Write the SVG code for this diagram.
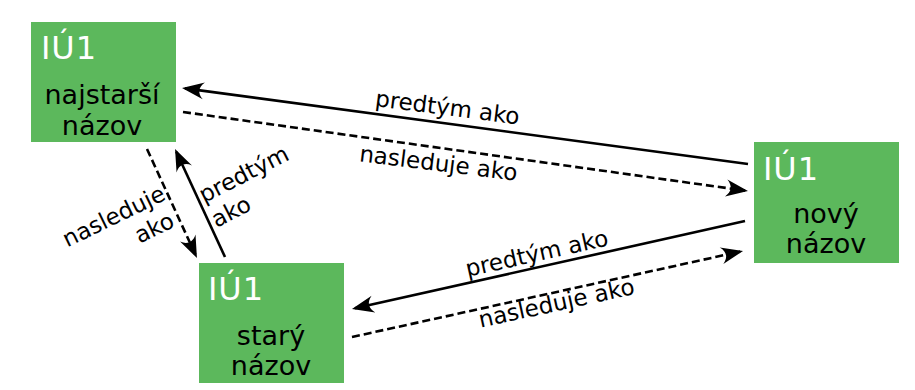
<svg xmlns="http://www.w3.org/2000/svg" width="915" height="390" viewBox="0 0 915 390">
<style>
.box{fill:#5cb85c}
.id{font-family:"DejaVu Sans","Liberation Sans",sans-serif;font-size:32px;fill:#ffffff}
.nm{font-family:"DejaVu Sans","Liberation Sans",sans-serif;font-size:27px;fill:#000000;text-anchor:middle}
.lb{font-family:"DejaVu Sans","Liberation Sans",sans-serif;font-size:23px;fill:#000000}
.solid{fill:none;stroke:#000;stroke-width:2.6;marker-end:url(#arr)}
.dash{fill:none;stroke:#000;stroke-width:2.6;stroke-dasharray:8,4;marker-end:url(#arr)}
</style>
<defs>
<marker id="arr" markerUnits="userSpaceOnUse" markerWidth="28" markerHeight="22" viewBox="-25 -11 28 22" refX="-3" refY="0" orient="auto">
<path d="M0,0 L-22,-8.5 C-16,-3 -16,3 -22,8.5 Z" fill="#000"/>
</marker>
</defs>
<rect width="915" height="390" fill="#ffffff"/>
<g id="connectors">
<path class="solid" d="M748,164 L185,88.4"/>
<path class="dash" d="M183,112 L745,190.6"/>
<path class="solid" d="M745,221 L354.9,308.3"/>
<path class="dash" d="M352,337 L740.1,251.6"/>
<path class="dash" d="M147,149 L195.7,255.3"/>
<path class="solid" d="M225,257 L176.3,151.7"/>
<text class="lb" text-anchor="middle" transform="translate(446.5,115.3) rotate(7.3)">predtým ako</text>
<text class="lb" text-anchor="middle" transform="translate(437.5,171) rotate(7)">nasleduje ako</text>
<text class="lb" text-anchor="middle" transform="translate(538.5,261) rotate(-12.6)">predtým ako</text>
<text class="lb" text-anchor="middle" transform="translate(558,310.8) rotate(-12.3)">nasleduje ako</text>
<text class="lb" transform="translate(204,203.3) rotate(-27)">predtým</text>
<text class="lb" transform="translate(216.5,227.9) rotate(-27)">ako</text>
<text class="lb" text-anchor="end" transform="translate(167,199) rotate(-26)">nasleduje</text>
<text class="lb" text-anchor="end" transform="translate(176,226) rotate(-26)">ako</text>
</g>
<g id="node-najstarsi">
<rect class="box" x="31" y="22" width="145" height="120"/>
<text class="id" x="41" y="59" textLength="55" lengthAdjust="spacing">IÚ1</text>
<text class="nm" x="102" y="104">najstarší</text>
<text class="nm" x="102" y="135">názov</text>
</g>
<g id="node-novy">
<rect class="box" x="754" y="142" width="145" height="121"/>
<text class="id" x="763" y="180" textLength="55" lengthAdjust="spacing">IÚ1</text>
<text class="nm" x="826" y="222.5">nový</text>
<text class="nm" x="826" y="253">názov</text>
</g>
<g id="node-stary">
<rect class="box" x="199" y="263" width="145" height="120"/>
<text class="id" x="208" y="300" textLength="55" lengthAdjust="spacing">IÚ1</text>
<text class="nm" x="271" y="345">starý</text>
<text class="nm" x="271" y="375">názov</text>
</g>
</svg>
